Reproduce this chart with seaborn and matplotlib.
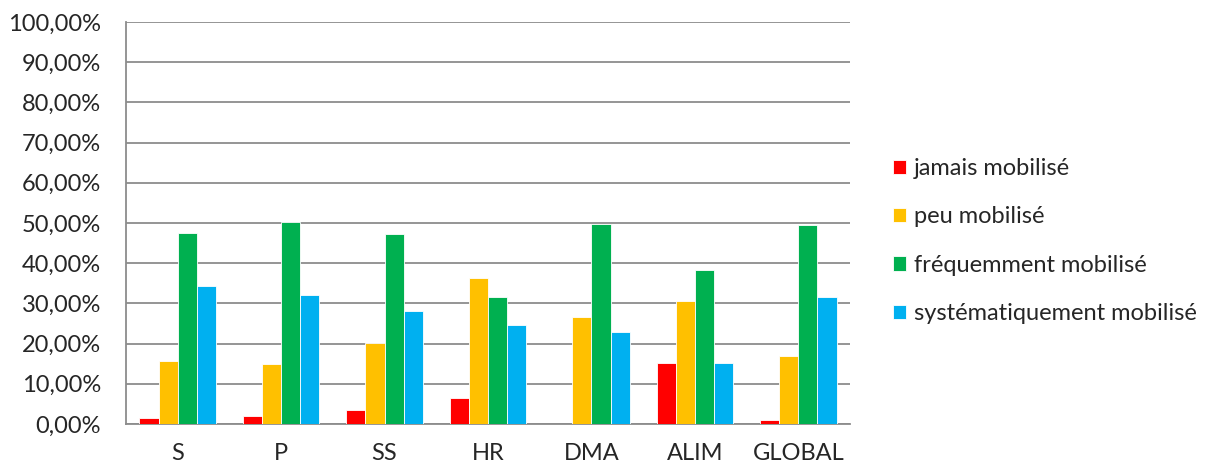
import numpy as np
import pandas as pd
import seaborn as sns
import matplotlib.pyplot as plt
from matplotlib.ticker import FuncFormatter, FixedLocator

# -------------------------- Data --------------------------
categories = ["S", "P", "SS", "HR", "DMA", "ALIM", "GLOBAL"]
series = ["jamais mobilisé", "peu mobilisé", "fréquemment mobilisé", "systématiquement mobilisé"]
jamais = [1.4, 1.9, 3.6, 6.5, 0.0, 15.1, 1.1]
peu = [15.7, 14.9, 20.2, 36.2, 26.7, 30.6, 16.8]
frequemment = [47.5, 50.2, 47.2, 31.6, 49.8, 38.2, 49.4]
systematiquement = [34.3, 32.1, 28.0, 24.7, 22.8, 15.1, 31.6]
colors = ["#FF0000", "#FFC000", "#00B050", "#00B0F0"]

df = pd.DataFrame({"cat": categories,
                   series[0]: jamais,
                   series[1]: peu,
                   series[2]: frequemment,
                   series[3]: systematiquement})
long = df.melt(id_vars="cat", var_name="serie", value_name="pct")

# -------------------------- Plot --------------------------
sns.set_style("white")
plt.rcParams['font.family'] = ['Lato', 'DejaVu Sans']

fig = plt.figure(figsize=(12.29, 4.68), dpi=100)
ax = fig.add_axes([126 / 1229, 1 - 424 / 468, (850 - 126) / 1229, (424 - 22) / 468])

sns.barplot(data=long, x="cat", y="pct", hue="serie", hue_order=series,
            palette=colors, width=0.74, edgecolor="white", linewidth=0.6,
            saturation=1, ax=ax, zorder=3)

ax.set_ylim(0, 100)
ax.set_xlim(-0.5, len(categories) - 0.5)
ax.set_yticks(np.arange(0, 101, 10))
ax.yaxis.set_major_formatter(FuncFormatter(lambda v, p: f"{v:.2f}".replace(".", ",") + "%"))
ax.yaxis.grid(True, color="#8c8c8c", linewidth=1.3, zorder=0)
ax.set_axisbelow(True)
ax.set_xlabel("")
ax.set_ylabel("")

for s in ["top", "right"]:
    ax.spines[s].set_visible(False)
for s in ["left", "bottom"]:
    ax.spines[s].set_color("#8c8c8c")
    ax.spines[s].set_linewidth(1.3)

ax.tick_params(axis="y", length=6, color="#8c8c8c", width=1.3, labelsize=17, pad=12)
ax.tick_params(axis="x", which="major", length=0, labelsize=17, pad=14)
ax.xaxis.set_minor_locator(FixedLocator(np.arange(-0.5, len(categories), 1)))
ax.tick_params(axis="x", which="minor", length=7, color="#8c8c8c", width=1.3)

ax.legend(loc="center left", bbox_to_anchor=(1.03, 0.455), frameon=False,
          fontsize=17, handlelength=0.55, handleheight=0.55, handletextpad=0.35,
          labelspacing=1.16)

fig.savefig("out.png", dpi=100)
